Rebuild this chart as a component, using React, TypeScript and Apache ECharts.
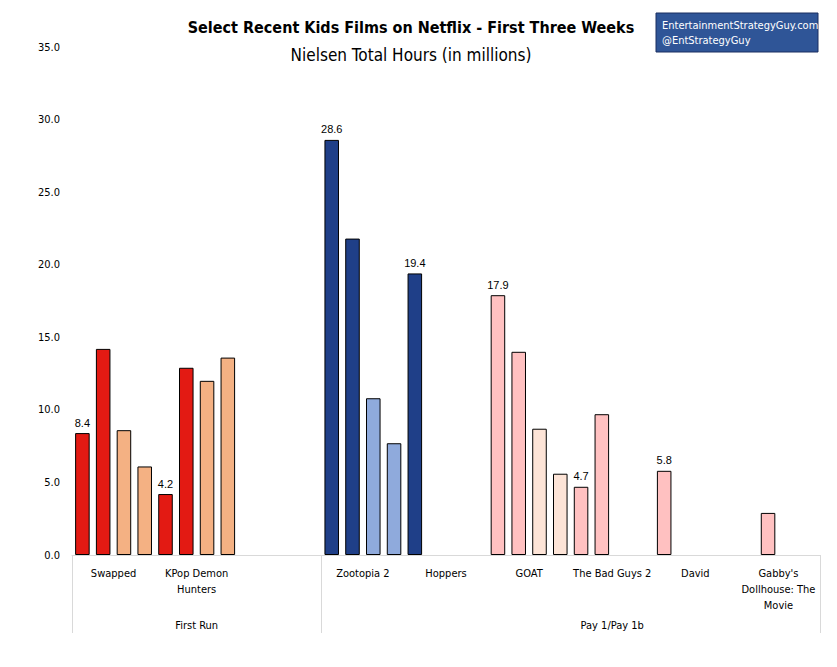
import { useEffect, useRef } from 'react';
import * as echarts from 'echarts';

// 36 bar slots, 4 per film
const slotValues: (number | null)[] = [
  8.4, 14.2, 8.6, 6.1, 4.2, 12.9, 12.0, 13.6, null, null, null, null,
  28.6, 21.8, 10.8, 7.7, 19.4, null, null, null,
  17.9, 14.0, 8.7, 5.6, 4.7, 9.7, null, null,
  5.8, null, null, null, null, 2.9, null, null,
];
const slotColors: string[] = [
  '#e31a13', '#e31a13', '#f4b183', '#f4b183', '#e31a13', '#e31a13', '#f4b183', '#f4b183', '', '', '', '',
  '#1f3f88', '#1f3f88', '#8faadc', '#8faadc', '#1f3f88', '', '', '',
  '#ffc1c1', '#ffc1c1', '#fde4d7', '#fde4d7', '#ffc1c1', '#ffc1c1', '', '',
  '#ffc1c1', '', '', '', '', '#ffc1c1', '', '',
];
const labelledSlots = [0, 4, 12, 16, 20, 24, 28];
const films = ['Swapped', 'KPop Demon\nHunters', '', 'Zootopia 2', 'Hoppers', 'GOAT', 'The Bad Guys 2', 'David', "Gabby's\nDollhouse: The\nMovie"];
const groups = ['First Run', 'Pay 1/Pay 1b'];
const groupSizes = [3, 6];

const FONT = '"Liberation Sans Narrow", "DejaVu Sans Condensed", "Liberation Sans", Arial, sans-serif';

export default function App() {
  const ref = useRef<HTMLDivElement>(null);

  useEffect(() => {
    if (!ref.current) return;
    const chart = echarts.init(ref.current, undefined, { renderer: 'svg' });
    const slots = slotValues.map((_, i) => String(i));
    // group axis: films per group, so ticks fall on group boundaries
    const groupCats: string[] = [];
    groups.forEach((g, gi) => {
      for (let k = 0; k < groupSizes[gi]; k++) groupCats.push(g);
    });

    chart.setOption({
      animation: false,
      textStyle: { fontFamily: FONT },
      title: [
        {
          text: 'Select Recent Kids Films on Netflix - First Three Weeks',
          left: 398,
          textAlign: 'center',
          top: 6,
          textStyle: { fontSize: 16, fontWeight: 'bold', color: '#000', fontFamily: FONT },
        },
        {
          text: 'Nielsen Total Hours (in millions)',
          left: 398,
          textAlign: 'center',
          top: 33,
          textStyle: { fontSize: 17, fontWeight: 'normal', color: '#000', fontFamily: FONT },
        },
      ],
      graphic: [
        {
          type: 'rect',
          shape: { x: 648, y: 5, width: 162, height: 39 },
          style: { fill: '#2f5597', stroke: '#1a2f60', lineWidth: 1 },
        },
        {
          type: 'text',
          x: 654,
          y: 10,
          style: {
            text: 'EntertainmentStrategyGuy.com\n@EntStrategyGuy',
            fill: '#fff',
            font: `11px ${FONT}`,
            lineHeight: 15,
          },
        },
      ],
      grid: { left: 64, right: 9, top: 39, bottom: 104 },
      xAxis: [
        {
          type: 'category',
          data: slots,
          axisLine: { lineStyle: { color: '#d9d9d9' } },
          axisTick: { show: false },
          axisLabel: { show: false },
        },
        {
          type: 'category',
          data: films,
          position: 'bottom',
          axisLine: { show: false },
          axisTick: { show: false },
          axisLabel: { interval: 0, color: '#000', fontSize: 11, lineHeight: 16, margin: 10 },
        },
        {
          type: 'category',
          data: groupCats,
          position: 'bottom',
          axisLine: { show: false },
          axisTick: {
            show: true,
            length: 78,
            interval: (i: number) => i === 0 || i === 3,
            lineStyle: { color: '#d9d9d9' },
          },
          axisLabel: {
            interval: 0,
            color: '#000',
            fontSize: 11,
            margin: 65,
            formatter: (v: string, i: number) => (i === 1 || i === 6 ? v : ''),
          },
        },
      ],
      yAxis: {
        type: 'value',
        min: 0,
        max: 35,
        interval: 5,
        splitLine: { show: false },
        axisLine: { show: false },
        axisTick: { show: false },
        axisLabel: { color: '#000', fontSize: 11, margin: 12, formatter: (v: number) => v.toFixed(1) },
      },
      series: [
        {
          type: 'bar',
          xAxisIndex: 0,
          barWidth: '70%',
          data: slotValues.map((v, i) => ({
            value: v,
            itemStyle: { color: slotColors[i] || '#fff', borderColor: '#000', borderWidth: 1 },
            label: {
              show: v !== null && labelledSlots.includes(i),
              position: 'top',
              color: '#000',
              fontSize: 11,
              fontFamily: 'Liberation Sans, Arial, sans-serif',
              formatter: (p: any) => Number(p.value).toFixed(1),
            },
          })),
        },
      ],
    });

    return () => chart.dispose();
  }, []);

  return <div ref={ref} style={{ width: 821, height: 651 }} />;
}
